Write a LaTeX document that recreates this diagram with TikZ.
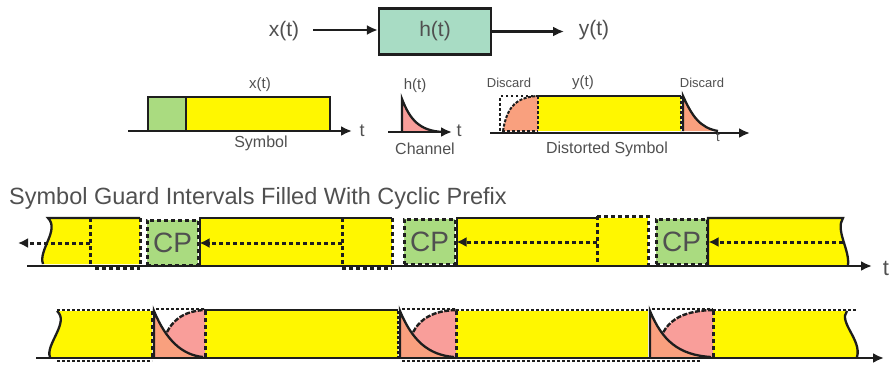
\documentclass[tikz,border=0pt]{standalone}
\usepackage{fontspec}
\setmainfont{Liberation Sans}
\usetikzlibrary{arrows.meta}
\definecolor{yel}{RGB}{255,247,0}
\definecolor{cpg}{RGB}{170,219,128}
\definecolor{salm}{RGB}{249,160,126}
\definecolor{pnk}{RGB}{249,158,154}
\definecolor{hbox}{RGB}{168,220,196}
\definecolor{txt}{RGB}{80,80,80}
\definecolor{ln}{RGB}{30,30,30}
\begin{document}
\begin{tikzpicture}[x=1pt,y=-1pt,
  border/.style={draw=ln, line width=2.3pt},
  dotl/.style={draw=ln, line width=3pt, dash pattern=on 4pt off 3pt},
  finedot/.style={draw=ln, line width=2.2pt, dash pattern=on 2.5pt off 2.5pt},
  axis/.style={draw=ln, line width=2.6pt, -{Latex[length=11pt,width=10pt]}},
  lbl/.style={text=txt, inner sep=0pt},
  cp/.style={fill=cpg, dotl, minimum width=51pt, minimum height=45pt, inner sep=0pt,
    text=txt, font=\fontsize{28}{28}\selectfont},
  darr/.style={dotl, -{Latex[length=10pt,width=10pt]}}
]
\useasboundingbox (0,0) rectangle (889,370);

% ---------- top block diagram ----------
\node[lbl, font=\fontsize{21}{21}\selectfont] (xt) at (284,31) {x(t)};
\node[draw=ln, line width=2.2pt, fill=hbox, minimum width=112pt, minimum height=46pt,
  inner sep=0pt, text=txt, font=\fontsize{21}{21}\selectfont] (h) at (435,31.5) {h(t)};
\node[lbl, font=\fontsize{21}{21}\selectfont] (yt) at (594,30) {y(t)};
\draw[line width=2.6pt, draw=ln, -{Latex[length=11pt,width=10pt]}] (xt.east)+(14pt,1pt) coordinate (xa) -- (xa -| h.west);
\draw[line width=2.6pt, draw=ln, -{Latex[length=11pt,width=10pt]}] (h.east) -- ++(72,0) coordinate (ya);

% ---------- row 2: symbol ----------
\fill[cpg] (148,97) rectangle (186,131);
\fill[yel] (186,97) rectangle (330,131);
\draw[border] (148,131) -- (148,97) -- (330,97) -- (330,131);
\draw[border] (186,97) -- (186,131);
\draw[axis] (128,131) -- (352,131);
\node[lbl, font=\fontsize{18}{18}\selectfont] at (362,131) {t};
\node[lbl, font=\fontsize{15}{15}\selectfont] at (260,85) {x(t)};
\node[lbl, font=\fontsize{16}{16}\selectfont] at (261,143) {Symbol};

% channel
\fill[pnk] (402,99) .. controls (410,120) and (420,131) .. (443,132) -- (402,132) -- cycle;
\draw[border] (402,132) -- (402,99) .. controls (410,120) and (420,131) .. (443,132);
\draw[axis] (388,132) -- (452,132);
\node[lbl, font=\fontsize{18}{18}\selectfont] at (459,131) {t};
\node[lbl, font=\fontsize{15}{15}\selectfont] at (415,86) {h(t)};
\node[lbl, font=\fontsize{16}{16}\selectfont] at (425,149) {Channel};

% distorted symbol
\fill[salm] (503,131) .. controls (507,105) and (518,97) .. (538,96) -- (538,131) -- cycle;
\fill[yel] (538,96) rectangle (681,131);
\fill[salm] (683,96) .. controls (692,116) and (700,128) .. (718,131) -- (683,131) -- cycle;
\draw[finedot, line width=1.6pt] (538,96) -- (500,96) -- (500,131) -- (538,131);
\draw[ln, line width=2pt, dash pattern=on 3pt off 1.5pt] (503,131) .. controls (507,105) and (518,97) .. (538,96);
\draw[ln, line width=2.4pt, dash pattern=on 3pt off 2pt] (538,96) -- (538,131);
\draw[border] (538,96) -- (681,96);
\draw[finedot, line width=1.6pt] (681,96) -- (681,131);
\draw[border] (683,131) -- (683,96) .. controls (692,116) and (700,128) .. (718,131);
\draw[axis] (490,133) -- (750,133);
\node[lbl, font=\fontsize{13}{13}\selectfont] at (718,137) {t};
\node[lbl, font=\fontsize{13}{13}\selectfont] at (509,83) {Discard};
\node[lbl, font=\fontsize{15}{15}\selectfont] at (583,83) {y(t)};
\node[lbl, font=\fontsize{13}{13}\selectfont] at (702,83) {Discard};
\node[lbl, font=\fontsize{16}{16}\selectfont] at (607,149) {Distorted Symbol};

% ---------- row 3: cyclic prefix ----------
\node[lbl, anchor=west, font=\fontsize{23.5}{23.5}\selectfont] at (9,198) {Symbol Guard Intervals Filled With Cyclic Prefix};

% block 1
\fill[yel] (48,218) .. controls (60,230) and (38,250) .. (43,264) -- (140,264) -- (140,218) -- cycle;
\draw[border] (140,218) -- (48,218) .. controls (60,230) and (38,250) .. (43,264);
\draw[dotl] (140,218) -- (140,265);
\draw[dotl] (90,218) -- (90,265);
\draw[dotl] (95,268) -- (140,268);
\coordinate (s1) at (90,243);
\coordinate (e1) at (18,243);
\draw[darr] (s1) -- (e1);

% CP 1
\node[cp] (cp1) at (172.5,242.5) {CP};

% block 2
\fill[yel] (200,218) rectangle (392,265);
\draw[border] (200,265) -- (200,218) -- (392,218);
\draw[dotl] (392,218) -- (392,265);
\draw[dotl] (342,218) -- (342,265);
\draw[dotl] (342,268) -- (392,268);
\coordinate (s2) at (342,243);
\draw[darr] (s2) -- (s2 -| cp1.east);

% CP 2
\node[cp] (cp2) at (429.5,241.5) {CP};

% block 3
\fill[yel] (457,218) rectangle (648,265);
\draw[border] (457,265) -- (457,218) -- (597,218);
\draw[dotl] (597,216) -- (648,216) -- (648,265);
\draw[dotl] (597,216) -- (597,265);
\coordinate (s3) at (597,242);
\draw[darr] (s3) -- (s3 -| cp2.east);

% CP 3
\node[cp] (cp3) at (681.5,241.5) {CP};

% block 4
\fill[yel] (708,218) -- (843,218) .. controls (835,230) and (850,250) .. (848,265) -- (708,265) -- cycle;
\draw[border] (708,265) -- (708,218) -- (843,218) .. controls (835,230) and (850,250) .. (848,265);
\coordinate (s4) at (843,242);
\draw[darr] (s4) -- (s4 -| cp3.east);

\draw[axis] (27,266) -- (872,266);
\node[lbl, font=\fontsize{22}{22}\selectfont] at (886,268) {t};

% ---------- row 4: distorted with guard ----------
% yellow fills first
\fill[yel] (57,311) .. controls (70,322) and (45,345) .. (50,357) -- (152,357) -- (152,311) -- cycle;
\fill[yel] (205,311) rectangle (398,357);
\fill[yel] (456,311) rectangle (648,357);
\fill[yel] (713,311) -- (847,311) .. controls (838,322) and (862,340) .. (857,357) -- (713,357) -- cycle;

% guard-interval drawings
\foreach \a/\b in {154/205, 400/456, 650/713}{
  \fill[pnk] (\a+6,357) .. controls (\a+10,325) and (\a+25,311) .. (\b,310) -- (\b,357) -- cycle;
  \fill[salm] (\a,311) .. controls (\a+12,340) and (\a+28,355) .. (\b-2,357) -- (\a,357) -- cycle;
  \begin{scope}
    \clip (\a,311) .. controls (\a+12,340) and (\a+28,355) .. (\b-2,357) -- (\b+5,357) -- (\b+5,300) -- (\a,300) -- cycle;
    \draw[ln, line width=2.4pt, dash pattern=on 5pt off 1.5pt] (\a+6,357) .. controls (\a+10,325) and (\a+25,311) .. (\b,310);
  \end{scope}
  \draw[border] (\a,357) -- (\a,311) .. controls (\a+12,340) and (\a+28,355) .. (\b-2,357);
  \draw[finedot] (\a+2,309) -- (\b,309);
  \draw[dotl] (\b,311) -- (\b,357);
}

% block A lines
\draw[border] (57,311) .. controls (70,322) and (45,345) .. (50,357);
\draw[finedot] (57,310) -- (152,310);
\draw[dotl] (152,311) -- (152,357);
\draw[finedot] (57,361) -- (152,361);

% block B lines
\draw[border] (205,310) -- (398,310);
\draw[finedot] (398,311) -- (398,357);

% block C lines
\draw[finedot] (456,310) -- (648,310);
\draw[finedot] (402,361) -- (700,361);

% block D lines
\draw[finedot] (713,310) -- (857,310);
\draw[border] (847,311) .. controls (838,322) and (862,340) .. (857,357);

\draw[axis] (36,358) -- (884,358);
\end{tikzpicture}
\end{document}
